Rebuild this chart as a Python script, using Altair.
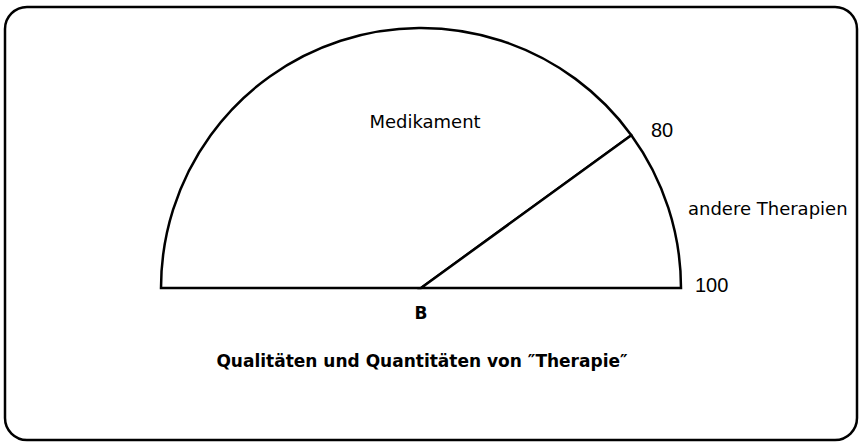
import math

import altair as alt
import pandas as pd

# Share of "Therapie" along the half circle, in percent (0 = left, 100 = right)
segments = ["Medikament", "andere Therapien"]
seg_start = [0, 80]
seg_end = [80, 100]

boundary_labels = ["80", "100"]
base_label = ["B"]
title_text = ["Qualitäten und Quantitäten von \u2033Therapie\u2033"]

W, H = 859, 443
CX, CY, R = 421, 288, 260

# upper half circle: 0 -> 9 o'clock, 100 -> 3 o'clock
theta_scale = alt.Scale(domain=[0, 100], range=[1.5 * math.pi, 2.5 * math.pi])

arc_df = pd.DataFrame({"segment": segments, "start": seg_start, "end": seg_end})

arcs = (
    alt.Chart(arc_df)
    .mark_arc(fill="white", stroke="black", strokeWidth=2.5, strokeJoin="miter")
    .encode(
        theta=alt.Theta("start:Q", scale=theta_scale, stack=None),
        theta2=alt.Theta2("end"),
        x=alt.value(CX),
        y=alt.value(CY),
        radius=alt.value(R),
    )
)

one = pd.DataFrame({"k": [0]})

frame = (
    alt.Chart(one)
    .mark_rect(fill=None, stroke="black", strokeWidth=2.5, cornerRadius=22)
    .encode(x=alt.value(5), x2=alt.value(857), y=alt.value(7), y2=alt.value(440))
)


def label(text, x, y, size, font="DejaVu Sans", weight="normal", align="left"):
    return (
        alt.Chart(pd.DataFrame({"label": [text]}))
        .mark_text(
            font=font,
            fontSize=size,
            fontWeight=weight,
            align=align,
            baseline="alphabetic",
            color="black",
        )
        .encode(text="label:N", x=alt.value(x), y=alt.value(y))
    )


texts = [
    label(segments[0], 425, 128, 18, align="center"),
    label(segments[1], 688, 215, 18),
    label(boundary_labels[0], 651, 137, 20, font="Liberation Sans"),
    label(boundary_labels[1], 695, 292, 20, font="Liberation Sans"),
    label(base_label[0], 421, 319, 17, weight="bold", align="center"),
    label(title_text[0], 422, 367, 17, weight="bold", align="center"),
]

chart = (
    alt.layer(frame, arcs, *texts)
    .properties(width=W, height=H, autosize=alt.AutoSizeParams(type="none"), padding=0, background="white")
    .configure_view(stroke=None)
)

chart.save("out.html", embed_options={"renderer": "svg", "actions": False})
